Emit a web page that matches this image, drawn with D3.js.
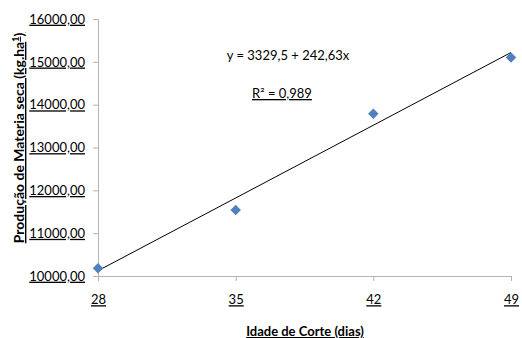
<!DOCTYPE html>
<html>
<head>
<meta charset="utf-8">
<script src="https://cdn.jsdelivr.net/npm/d3@7"></script>
<style>
  body { margin: 0; background: #fff; }
  text { font-family: Lato, "Open Sans", sans-serif; fill: #000; }
  .u { text-decoration: underline; }
</style>
</head>
<body>
<svg id="chart" width="522" height="338"></svg>
<script>
// data
var dias = [28, 35, 42, 49];
var materiaSeca = [10180, 11540, 13790, 15100];
var yTicks = [10000, 11000, 12000, 13000, 14000, 15000, 16000];
var intercept = 3329.5;
var slope = 242.63;

var svg = d3.select('#chart');
var x = d3.scaleLinear().domain([28, 49]).range([98, 511]);
var y = d3.scaleLinear().domain([10000, 16000]).range([276, 19]);

var fmt = function(d) { return d3.format('.2f')(d).replace('.', ','); };

// y axis
var yAxis = svg.append('g').attr('transform', 'translate(98,0)')
    .call(d3.axisLeft(y).tickValues(yTicks).tickSize(5).tickPadding(8).tickFormat(fmt));
yAxis.select('.domain').attr('stroke', '#b3b3b3');
yAxis.selectAll('.tick line').attr('stroke', '#b3b3b3');
yAxis.selectAll('.tick text').attr('class', 'u').style('font-size', '13px')
    .attr('font-family', null).attr('fill', '#000');

// x axis
var xAxis = svg.append('g').attr('transform', 'translate(0,276)')
    .call(d3.axisBottom(x).tickValues(dias).tickSize(5).tickPadding(14).tickSizeOuter(0));
xAxis.select('.domain').attr('stroke', '#b3b3b3');
xAxis.selectAll('.tick line').attr('stroke', '#b3b3b3');
xAxis.selectAll('.tick text').attr('class', 'u').style('font-size', '13px')
    .attr('font-family', null).attr('fill', '#000');

// trend line
svg.append('line')
    .attr('x1', x(28)).attr('y1', y(intercept + slope * 28))
    .attr('x2', x(49)).attr('y2', y(intercept + slope * 49))
    .attr('stroke', '#000').attr('stroke-width', 1);

// markers
svg.selectAll('path.pt')
    .data(dias)
    .enter()
    .append('path')
    .attr('class', 'pt')
    .attr('d', d3.symbol().type(d3.symbolDiamond2).size(70))
    .attr('transform', (d, i) => 'translate(' + x(d) + ',' + y(materiaSeca[i]) + ')')
    .attr('fill', '#4f81bd');

// equation labels
svg.append('text').attr('x', 288).attr('y', 60).attr('text-anchor', 'middle')
    .style('font-size', '13px').text('y = 3329,5 + 242,63x');
svg.append('text').attr('x', 282).attr('y', 98).attr('text-anchor', 'middle')
    .attr('class', 'u').style('font-size', '13px').text('R² = 0,989');

// axis titles
svg.append('text').attr('x', 305).attr('y', 336).attr('text-anchor', 'middle')
    .attr('class', 'u').style('font-size', '13px').style('font-weight', 'bold')
    .text('Idade de Corte (dias)');

var yt = svg.append('text').attr('transform', 'translate(24,138) rotate(-90)')
    .attr('text-anchor', 'middle').attr('class', 'u')
    .style('font-size', '14px').style('font-weight', 'bold');
yt.append('tspan').text('Produção de Materia seca (kg.ha');
yt.append('tspan').attr('dy', -5).style('font-size', '9px').text('1');
yt.append('tspan').attr('dy', 5).text(')');
</script>
</body>
</html>
